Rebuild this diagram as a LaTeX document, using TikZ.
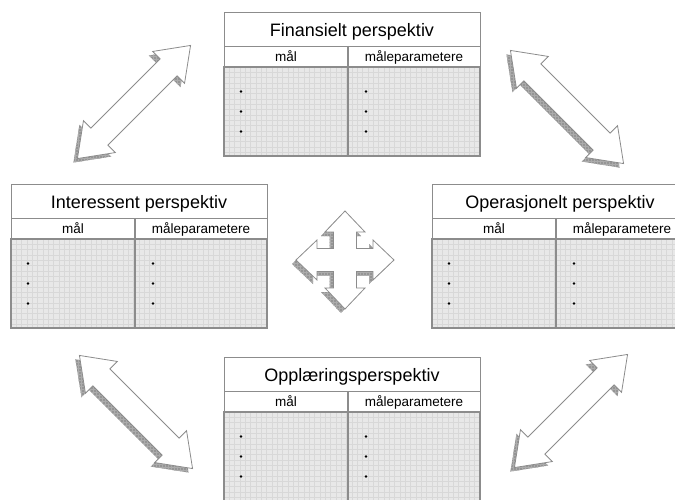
\documentclass[tikz,border=0pt]{standalone}
\usepackage{fontspec}
\setmainfont{Liberation Sans}
\usetikzlibrary{patterns}

\definecolor{edge}{HTML}{8C8C8C}
\definecolor{gridfill}{HTML}{E8E8E8}
\definecolor{gridline}{HTML}{D8D8D8}
\definecolor{shadowgray}{HTML}{959595}
\definecolor{hatchgray}{HTML}{ABABAB}

% One perspective table: name, left x, top y, title
\newcommand{\perspective}[4]{%
  \begin{scope}[shift={(#2,#3)}]
    \fill[white] (0,0) rectangle (256,55);
    \fill[gridfill] (0,55) rectangle (256,144);
    \foreach \i in {1,...,47} \draw[gridline, line width=0.45pt] (\i*5.33,55) -- (\i*5.33,144);
    \foreach \j in {1,...,16} \draw[gridline, line width=0.45pt] (0,55+\j*5.33) -- (256,55+\j*5.33);
    \draw[frame] (0,0) rectangle (256,144);
    \draw[frame] (0,34) -- (256,34);
    \draw[cellframe] (0,55) rectangle (256,144);
    \draw[cellframe] (124,34) -- (124,144);
    \node[titletext] (#1-title) at (128,24.5) {#4};
    \node[headtext] (#1-goal) at (62,49.5) {mål};
    \node[headtext] (#1-measure) at (190,49.5) {måleparametere};
    \foreach \k in {0,1,2} {
      \node[bulletdot] (#1-goal-\k) at (17,79.5+\k*20) {};
      \node[bulletdot] (#1-measure-\k) at (142,79.5+\k*20) {};
    }
  \end{scope}}

% Double-headed block arrow with a drop shadow: centre x, centre y, axis angle
\newcommand{\twowayarrow}[3]{%
  \begin{scope}[shift={(#1-4,#2+4)}, rotate=#3]
    \fill[shadowfill] (-80,0) -- (-49,22.5) -- (-49,12) -- (49,12) -- (49,22.5) -- (80,0)
      -- (49,-22.5) -- (49,-12) -- (-49,-12) -- (-49,-22.5) -- cycle;
  \end{scope}
  \begin{scope}[shift={(#1,#2)}, rotate=#3]
    \draw[arrowbody] (-80,0) -- (-49,22.5) -- (-49,12) -- (49,12) -- (49,22.5) -- (80,0)
      -- (49,-22.5) -- (49,-12) -- (-49,-12) -- (-49,-22.5) -- cycle;
  \end{scope}}

% Four-way block arrow outline around the origin
\newcommand{\fourwaypath}{%
  (0,-49) -- (20,-28) -- (11.5,-28) -- (11.5,-11.5) -- (28,-11.5) -- (28,-20) -- (49,0)
  -- (28,20) -- (28,11.5) -- (11.5,11.5) -- (11.5,28) -- (20,28) -- (0,49)
  -- (-20,28) -- (-11.5,28) -- (-11.5,11.5) -- (-28,11.5) -- (-28,20) -- (-49,0)
  -- (-28,-20) -- (-28,-11.5) -- (-11.5,-11.5) -- (-11.5,-28) -- (-20,-28) -- cycle}

\begin{document}
\begin{tikzpicture}[x=1pt, y=-1pt,
  frame/.style={draw=edge, line width=0.8pt},
  cellframe/.style={draw=edge, line width=1.5pt},
  titletext/.style={font=\fontsize{18}{20}\selectfont, inner sep=0pt, anchor=base},
  headtext/.style={font=\fontsize{13.5}{15}\selectfont, inner sep=0pt, anchor=base},
  bulletdot/.style={circle, fill=black, inner sep=0pt, minimum size=2.7pt},
  arrowbody/.style={draw=edge, fill=white, line width=0.8pt, line join=miter},
  shadowfill/.style={fill=shadowgray, postaction={pattern=grid, pattern color=hatchgray}},
]
\useasboundingbox (0,0) rectangle (675,500);
\clip (0,0) rectangle (675,500);

\perspective{fin}{224}{12}{Finansielt perspektiv}
\perspective{int}{11}{184}{Interessent perspektiv}
\perspective{ops}{432}{184}{Operasjonelt perspektiv}
\perspective{opl}{224}{357}{Opplæringsperspektiv}

\twowayarrow{134}{102}{45}
\twowayarrow{567}{107}{-45}
\twowayarrow{136}{412}{-45}
\twowayarrow{571}{411}{45}

\begin{scope}[shift={(341,264)}]
  \fill[shadowfill] \fourwaypath;
\end{scope}
\begin{scope}[shift={(345,260)}]
  \draw[arrowbody] \fourwaypath;
\end{scope}
\end{tikzpicture}
\end{document}
